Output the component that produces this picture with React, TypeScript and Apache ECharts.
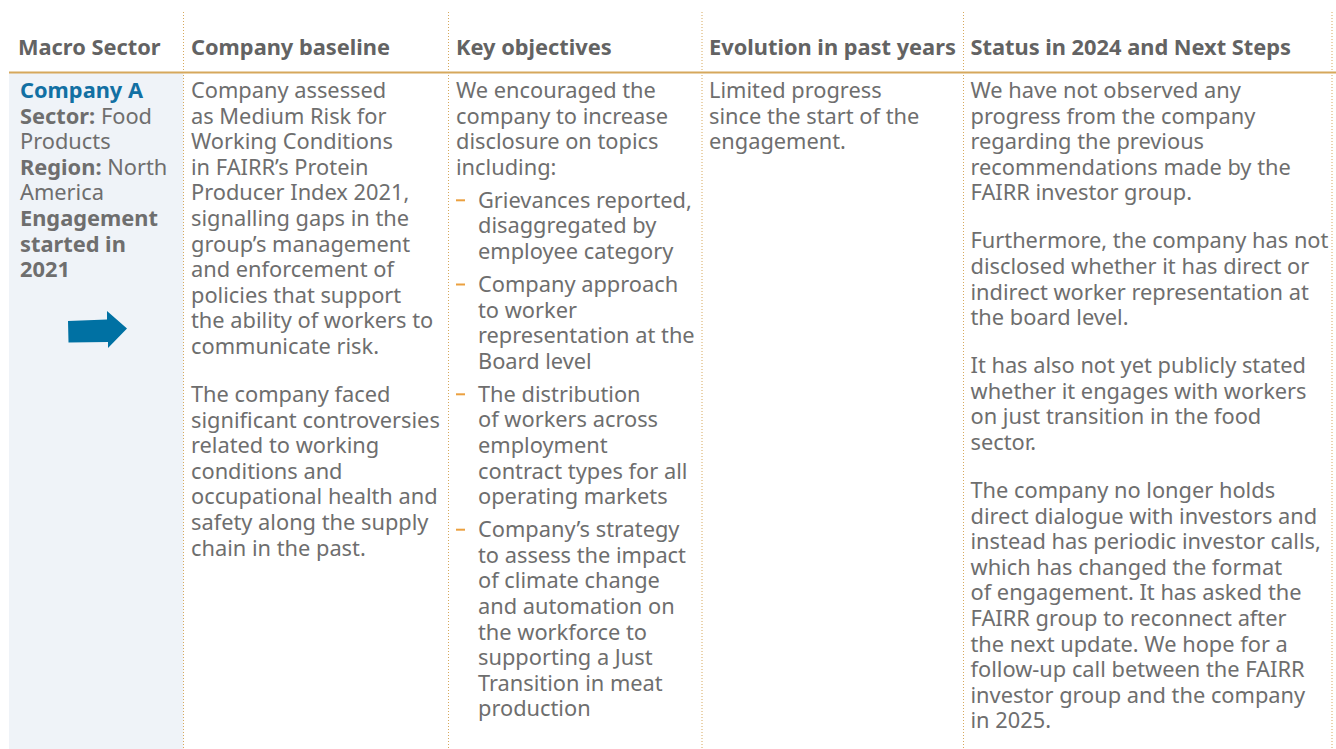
import { useEffect, useRef } from "react";
import * as echarts from "echarts";

const headers = [
  "Macro Sector",
  "Company baseline",
  "Key objectives",
  "Evolution in past years",
  "Status in 2024 and Next Steps",
];

const macroLines = [
  "{blue|Company A}",
  "{b|Sector:} Food",
  "Products",
  "{b|Region:} North",
  "America",
  "{b|Engagement}",
  "{b|started in}",
  "{b|2021}",
];

const baselineParas = [
  [
    "Company assessed",
    "as Medium Risk for",
    "Working Conditions",
    "in FAIRR’s Protein",
    "Producer Index 2021,",
    "signalling gaps in the",
    "group’s management",
    "and enforcement of",
    "policies that support",
    "the ability of workers to",
    "communicate risk.",
  ],
  [
    "The company faced",
    "significant controversies",
    "related to working",
    "conditions and",
    "occupational health and",
    "safety along the supply",
    "chain in the past.",
  ],
];

const objectivesIntro = [
  "We encouraged the",
  "company to increase",
  "disclosure on topics",
  "including:",
];

const objectivesBullets = [
  ["Grievances reported,", "disaggregated by", "employee category"],
  ["Company approach", "to worker", "representation at the", "Board level"],
  [
    "The distribution",
    "of workers across",
    "employment",
    "contract types for all",
    "operating markets",
  ],
  [
    "Company’s strategy",
    "to assess the impact",
    "of climate change",
    "and automation on",
    "the workforce to",
    "supporting a Just",
    "Transition in meat",
    "production",
  ],
];

const evolutionLines = [
  "Limited progress",
  "since the start of the",
  "engagement.",
];

const statusParas = [
  [
    "We have not observed any",
    "progress from the company",
    "regarding the previous",
    "recommendations made by the",
    "FAIRR investor group.",
  ],
  [
    "Furthermore, the company has not",
    "disclosed whether it has direct or",
    "indirect worker representation at",
    "the board level.",
  ],
  [
    "It has also not yet publicly stated",
    "whether it engages with workers",
    "on just transition in the food",
    "sector.",
  ],
  [
    "The company no longer holds",
    "direct dialogue with investors and",
    "instead has periodic investor calls,",
    "which has changed the format",
    "of engagement. It has asked the",
    "FAIRR group to reconnect after",
    "the next update. We hope for a",
    "follow-up call between the FAIRR",
    "investor group and the company",
    "in 2025.",
  ],
];

const FONT = '"Noto Sans", "Open Sans", sans-serif';
const FS = 21.8;
const LH = 25.6;
const PARA_GAP = 22.4;
const BULLET_GAP = 7.4;
const FIRST_Y = 89.5;
const HEADER_Y = 46.5;
const HEAD_COLOR = "#636363";
const BODY_COLOR = "#6e6e6e";
const BLUE = "#1270a3";
const GOLD = "#d6a85c";
const ORANGE = "#eba03f";
const colX = [20, 191, 456, 709, 970.5];
const dividerX = [183.5, 448.5, 702, 963.5, 1332];

export default function App() {
  const ref = useRef<HTMLDivElement>(null);
  useEffect(() => {
    const chart = echarts.init(ref.current!, null, { renderer: "svg" });
    const els: any[] = [];
    const rich = {
      b: { fontWeight: "bold", fill: BODY_COLOR, fontSize: FS, fontFamily: FONT, lineHeight: LH },
      blue: { fontWeight: "bold", fill: BLUE, fontSize: FS, fontFamily: FONT, lineHeight: LH },
    };
    // one text block: lines joined, first line's middle at yMid
    const block = (x: number, yMid: number, lines: string[], opts: any = {}) => {
      const text = lines.join("\n");
      els.push({
        type: "text",
        x,
        y: yMid - LH / 2,
        z: 10,
        style: {
          text,
          fill: opts.fill || BODY_COLOR,
          fontSize: FS,
          fontFamily: FONT,
          fontWeight: opts.bold ? "bold" : "normal",
          lineHeight: LH,
          verticalAlign: "top",
          align: "left",
          rich: text.indexOf("{") >= 0 ? rich : undefined,
        },
      });
    };

    // background panel for first column
    els.push({
      type: "rect",
      z: 1,
      shape: { x: 9, y: 73, width: dividerX[0] - 9, height: 749 - 73 },
      style: { fill: "#eff3f8" },
    });
    // vertical dotted dividers
    dividerX.forEach((x) => {
      els.push({
        type: "line",
        z: 2,
        shape: { x1: x, y1: 12, x2: x, y2: 749 },
        style: { stroke: GOLD, lineWidth: 1, lineDash: [1, 2] },
      });
    });
    // header rule
    els.push({
      type: "line",
      z: 3,
      shape: { x1: 9, y1: 72.5, x2: 1336, y2: 72.5 },
      style: { stroke: GOLD, lineWidth: 2 },
    });

    // headers
    headers.forEach((h, i) => {
      block(i === 0 ? 18 : colX[i], HEADER_Y, [h], { bold: true, fill: HEAD_COLOR });
    });

    // col 1
    block(colX[0], FIRST_Y, macroLines);

    // paragraphs helper
    const paras = (x: number, ps: string[][]) => {
      let y = FIRST_Y;
      ps.forEach((p) => {
        block(x, y, p);
        y += p.length * LH + PARA_GAP;
      });
    };
    paras(colX[1], baselineParas);
    paras(colX[3], [evolutionLines]);
    paras(colX[4], statusParas);

    // col 3 with bullets
    let y = FIRST_Y;
    block(colX[2], y, objectivesIntro);
    y += objectivesIntro.length * LH;
    objectivesBullets.forEach((b) => {
      y += BULLET_GAP;
      els.push({
        type: "line",
        z: 5,
        shape: { x1: colX[2], y1: y + 1, x2: colX[2] + 9, y2: y + 1 },
        style: { stroke: ORANGE, lineWidth: 2 },
      });
      block(colX[2] + 22, y, b);
      y += b.length * LH;
    });

    // arrow
    els.push({
      type: "polygon",
      z: 6,
      shape: {
        points: [
          [68, 321],
          [107, 319.5],
          [107, 311],
          [127, 328.5],
          [108, 348],
          [108, 342],
          [68.5, 342.5],
        ],
      },
      style: { fill: "#0071a3" },
    });

    chart.setOption({ animation: false, graphic: { elements: els } });
    return () => chart.dispose();
  }, []);
  return (
    <div
      ref={ref}
      style={{ position: "fixed", left: 0, top: 0, width: 1336, height: 749, background: "#fff" }}
    />
  );
}
